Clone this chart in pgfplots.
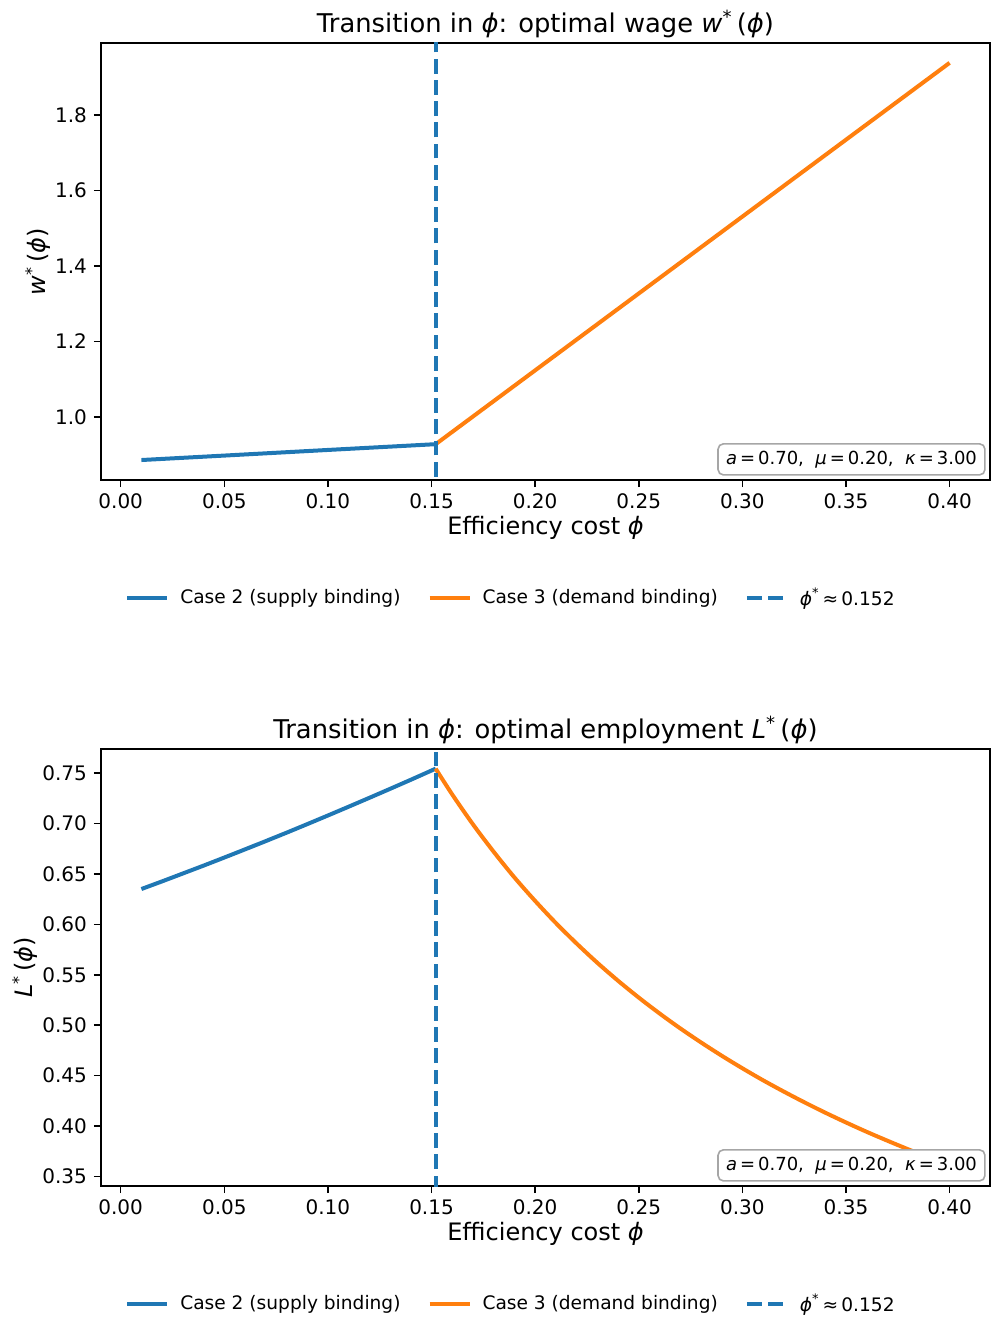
\documentclass[border=0pt]{standalone}
\usepackage{pgfplots}
\pgfplotsset{compat=1.18}
\usepackage{fontspec}
\setmainfont{DejaVu Sans}
\definecolor{mblue}{HTML}{1F77B4}
\definecolor{morange}{HTML}{FF7F0E}
\newcommand{\ph}{\textit{ϕ}}
\tikzset{
  boxnode/.style={anchor=south east, draw=gray!70, fill=white, rounded corners=2.7pt,
    line width=0.8pt, inner xsep=4pt, inner ysep=3.5pt, font=\fontsize{9}{11}\selectfont},
}
\pgfplotsset{
  every axis title shift=0pt,
  myax/.style={
    scale only axis, width=444.5pt, height=218.5pt,
    xmin=-0.0095, xmax=0.4195,
    anchor=south west,
    tick align=outside, xtick pos=lower, ytick pos=left,
    major tick length=3.5pt,
    axis line style={line width=0.8pt},
    every tick/.style={black, line width=0.8pt},
    /pgf/number format/assume math mode=true,
    tick label style={font=\fontsize{10}{12}\selectfont},
    xtick={0,0.05,0.10,0.15,0.20,0.25,0.30,0.35,0.40},
    xticklabel style={/pgf/number format/.cd, fixed, fixed zerofill, precision=2},
    label style={font=\fontsize{12}{14}\selectfont},
    title style={font=\fontsize{12.9}{15}\selectfont, at={(0.5,1.0435)}, anchor=center},
    xlabel style={at={(axis description cs:0.5,-0.1095)}, anchor=center},
    xlabel={Efficiency cost \ph},
    legend style={at={(0.4623,-0.270)}, anchor=center, draw=none, fill=none,
      font=\fontsize{9.3}{11}\selectfont, legend columns=3,
      /tikz/every odd column/.append style={column sep=3.5pt},
      /tikz/every even column/.append style={column sep=11.5pt}},
    legend cell align=left,
    legend image code/.code={\draw[#1] (0pt,0pt) -- (20pt,0pt);},
  },
}
\begin{document}
\begin{tikzpicture}
\useasboundingbox (0,0) rectangle (496pt,-658.5pt);
% ---------- top panel ----------
\begin{axis}[myax, at={(50.5pt,-240pt)},
  ymin=0.8331, ymax=1.9907,
  ytick={1.0,1.2,1.4,1.6,1.8},
  yticklabel style={/pgf/number format/.cd, fixed, fixed zerofill, precision=1},
  ylabel style={at={(axis description cs:-0.0709,0.5)}, anchor=center},
  ylabel={\textit{w}\textsuperscript{*}\,(\ph)},
  title={Transition in \ph: optimal wage \textit{w}\textsuperscript{*}\,(\ph)}]
\addplot[mblue, line width=2pt] coordinates {(0.01,0.886) (0.05,0.8978) (0.10,0.9127) (0.152,0.928)};
\addlegendentry{Case 2 (supply binding)}
\addplot[morange, line width=2pt] coordinates {(0.152,0.928) (0.25,1.3272) (0.40,1.9381)};
\addlegendentry{Case 3 (demand binding)}
\addplot[mblue, line width=2pt, dash pattern=on 7.4pt off 3.2pt] coordinates {(0.152,0) (0.152,3)};
\addlegendentry{\ph\textsuperscript{*}\,≈\,0.152}
\node[boxnode] at (rel axis cs:0.9952,0.0098) {\textit{a}\,=\,0.70,\ \ \textit{μ}\,=\,0.20,\ \ \textit{κ}\,=\,3.00};
\end{axis}
% ---------- bottom panel ----------
\begin{axis}[myax, at={(50.5pt,-593pt)},
  ymin=0.3406, ymax=0.7738,
  ytick={0.35,0.40,0.45,0.50,0.55,0.60,0.65,0.70,0.75},
  yticklabel style={/pgf/number format/.cd, fixed, fixed zerofill, precision=2},
  ylabel style={at={(axis description cs:-0.0855,0.5)}, anchor=center},
  ylabel={\textit{L}\textsuperscript{*}\,(\ph)},
  title={Transition in \ph: optimal employment \textit{L}\textsuperscript{*}\,(\ph)}]
\addplot[mblue, line width=2pt] coordinates {(0.01,0.635) (0.02,0.6426) (0.03,0.6504) (0.04,0.6582) (0.05,0.6662) (0.06,0.6743) (0.07,0.6825) (0.08,0.6908) (0.09,0.6993) (0.10,0.7079) (0.11,0.7166) (0.12,0.7254) (0.13,0.7343) (0.14,0.7433) (0.152,0.7543)};
\addlegendentry{Case 2 (supply binding)}
\addplot[morange, line width=2pt, smooth] coordinates {(0.152,0.7543) (0.16,0.7287) (0.17,0.6991) (0.18,0.6719) (0.19,0.6465) (0.20,0.6232) (0.21,0.6013) (0.22,0.5810) (0.23,0.5619) (0.24,0.5441) (0.25,0.5274) (0.26,0.5117) (0.27,0.4969) (0.28,0.4830) (0.29,0.4698) (0.30,0.4573) (0.31,0.4454) (0.32,0.4342) (0.33,0.4235) (0.34,0.4133) (0.35,0.4036) (0.36,0.3943) (0.37,0.3855) (0.38,0.3770) (0.39,0.3689) (0.40,0.3612)};
\addlegendentry{Case 3 (demand binding)}
\addplot[mblue, line width=2pt, dash pattern=on 7.4pt off 3.2pt] coordinates {(0.152,0) (0.152,3)};
\addlegendentry{\ph\textsuperscript{*}\,≈\,0.152}
\node[boxnode] at (rel axis cs:0.9952,0.0098) {\textit{a}\,=\,0.70,\ \ \textit{μ}\,=\,0.20,\ \ \textit{κ}\,=\,3.00};
\end{axis}
\end{tikzpicture}
\end{document}
